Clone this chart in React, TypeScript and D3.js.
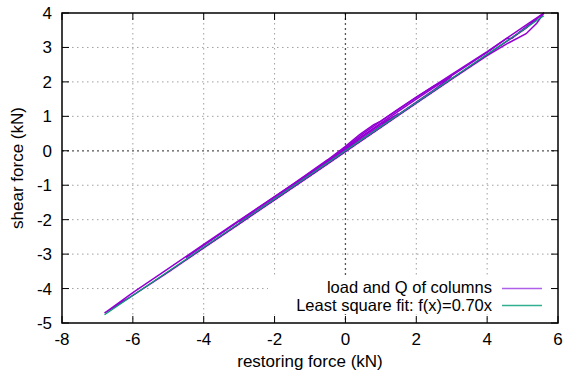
import * as d3 from "d3";

// gnuplot-style hysteresis plot: shear force vs restoring force with LSQ fit
const xTicks = [-8, -6, -4, -2, 0, 2, 4, 6];
const yTicks = [-5, -4, -3, -2, -1, 0, 1, 2, 3, 4];

// measured loops (restoring force kN, shear force kN)
const loopSmall: [number, number][] = [
  [-1.5, -1.05], [-1.0, -0.68], [-0.5, -0.31], [0, 0.06], [0.5, 0.42], [1.0, 0.78], [1.5, 1.08],
  [1.0, 0.72], [0.5, 0.36], [0, 0.01], [-0.5, -0.36], [-1.0, -0.71], [-1.5, -1.05],
];
const loopMid: [number, number][] = [
  [-3.0, -2.08], [-2.0, -1.38], [-1.0, -0.66], [0, 0.1], [0.5, 0.5], [1.0, 0.86], [1.5, 1.22],
  [2.0, 1.56], [2.5, 1.88], [3.0, 2.16], [2.5, 1.77], [2.0, 1.41], [1.0, 0.7], [0, 0.0],
  [-1.0, -0.72], [-2.0, -1.42], [-3.0, -2.08],
];
const loopLarge: [number, number][] = [
  [-6.8, -4.71], [-6.0, -4.12], [-5.0, -3.42], [-4.0, -2.72], [-3.0, -2.02], [-2.0, -1.33],
  [-1.0, -0.64], [0, 0.08], [0.5, 0.45], [1.0, 0.8], [2.0, 1.5], [3.0, 2.18], [4.0, 2.86],
  [4.55, 3.26], [4.7, 3.27], [5.0, 3.52], [5.6, 4.0], [5.4, 3.7], [5.1, 3.4], [4.6, 3.13],
  [4.0, 2.76], [3.0, 2.08], [2.0, 1.38], [1.0, 0.68], [0, -0.02], [-1.0, -0.72], [-2.0, -1.42],
  [-3.0, -2.12], [-4.0, -2.82], [-5.0, -3.52], [-6.0, -4.2], [-6.8, -4.71],
];
const loopUpper: [number, number][] = [
  [-4.5, -3.1], [-3.0, -2.04], [-1.5, -0.98], [-0.5, -0.26], [0, 0.13], [0.4, 0.47],
  [0.8, 0.76], [1.0, 0.86], [1.5, 1.2], [2.0, 1.55], [3.0, 2.22], [4.0, 2.88], [4.6, 3.3],
  [5.2, 3.72], [5.6, 4.0], [5.1, 3.56], [4.5, 3.14], [3.5, 2.44], [2.5, 1.74], [1.5, 1.04],
  [0.5, 0.33], [-0.5, -0.38], [-1.5, -1.08], [-3.0, -2.12], [-4.5, -3.16],
];
const loops = [loopSmall, loopMid, loopLarge, loopUpper];

const slope = 0.7;
const fitRange = [-6.8, 5.6];

const W = 570;
const H = 378;
const m = { left: 62, right: 12, top: 13, bottom: 55 };

export default function App() {
  const x = d3.scaleLinear().domain([-8, 6]).range([m.left, W - m.right]);
  const y = d3.scaleLinear().domain([-5, 4]).range([H - m.bottom, m.top]);
  const line = d3
    .line<[number, number]>()
    .x((d) => x(d[0]))
    .y((d) => y(d[1]));
  const fitPts: [number, number][] = fitRange.map((v) => [v, slope * v]);
  const x0 = m.left, x1 = W - m.right, y0 = m.top, y1 = H - m.bottom;
  const tl = 7;
  const font = "'Liberation Sans', Arial, sans-serif";

  return (
    <svg width={W} height={H} style={{ position: "absolute", left: 0, top: 0, background: "#fff" }} fontFamily={font} fontSize={17}>
      {/* grid */}
      {xTicks.slice(1, -1).filter((t) => t !== 0).map((t) => (
        <line key={"gx" + t} x1={x(t)} x2={x(t)} y1={y0} y2={y1} stroke="#a0a0a0" strokeDasharray="1.5,3.5" />
      ))}
      {yTicks.slice(1, -1).filter((t) => t !== 0).map((t) => (
        <line key={"gy" + t} x1={x0} x2={x1} y1={y(t)} y2={y(t)} stroke="#a0a0a0" strokeDasharray="1.5,3.5" />
      ))}
      {/* zero axes */}
      <line x1={x(0)} x2={x(0)} y1={y0} y2={y1} stroke="#555" strokeWidth={1.3} strokeDasharray="2,3" />
      <line x1={x0} x2={x1} y1={y(0)} y2={y(0)} stroke="#555" strokeWidth={1.3} strokeDasharray="2,3" />

      {/* data */}
      {loops.map((l, i) => (
        <path key={i} d={line(l) ?? ""} fill="none" stroke="#9400d3" strokeWidth={1.5} />
      ))}
      <path d={line(fitPts) ?? ""} fill="none" stroke="#009e73" strokeWidth={1.2} />

      {/* key */}
      <rect x={268} y={276} width={282} height={38} fill="#fff" />
      <text x={492} y={293} fontSize={16.5} textAnchor="end">load and Q of columns</text>
      <line x1={502} x2={542} y1={288.5} y2={288.5} stroke="#b060e8" strokeWidth={1.5} />
      <text x={492} y={311} fontSize={16.5} textAnchor="end">Least square fit: f(x)=0.70x</text>
      <line x1={502} x2={542} y1={305.5} y2={305.5} stroke="#30b090" strokeWidth={1.5} />

      {/* border and tics */}
      <rect x={x0} y={y0} width={x1 - x0} height={y1 - y0} fill="none" stroke="#000" strokeWidth={1.5} />
      {xTicks.map((t) => (
        <g key={"tx" + t}>
          <line x1={x(t)} x2={x(t)} y1={y1} y2={y1 - tl} stroke="#000" />
          <line x1={x(t)} x2={x(t)} y1={y0} y2={y0 + tl} stroke="#000" />
          <text x={x(t)} y={y1 + 22} textAnchor="middle">{t}</text>
        </g>
      ))}
      {yTicks.map((t) => (
        <g key={"ty" + t}>
          <line x1={x0} x2={x0 + tl} y1={y(t)} y2={y(t)} stroke="#000" />
          <line x1={x1} x2={x1 - tl} y1={y(t)} y2={y(t)} stroke="#000" />
          <text x={x0 - 10} y={y(t) + 6} textAnchor="end">{t}</text>
        </g>
      ))}
      <text x={(x0 + x1) / 2} y={H - 11} textAnchor="middle">restoring force (kN)</text>
      <text transform={`translate(23,${(y0 + y1) / 2}) rotate(-90)`} textAnchor="middle">shear force (kN)</text>
    </svg>
  );
}
